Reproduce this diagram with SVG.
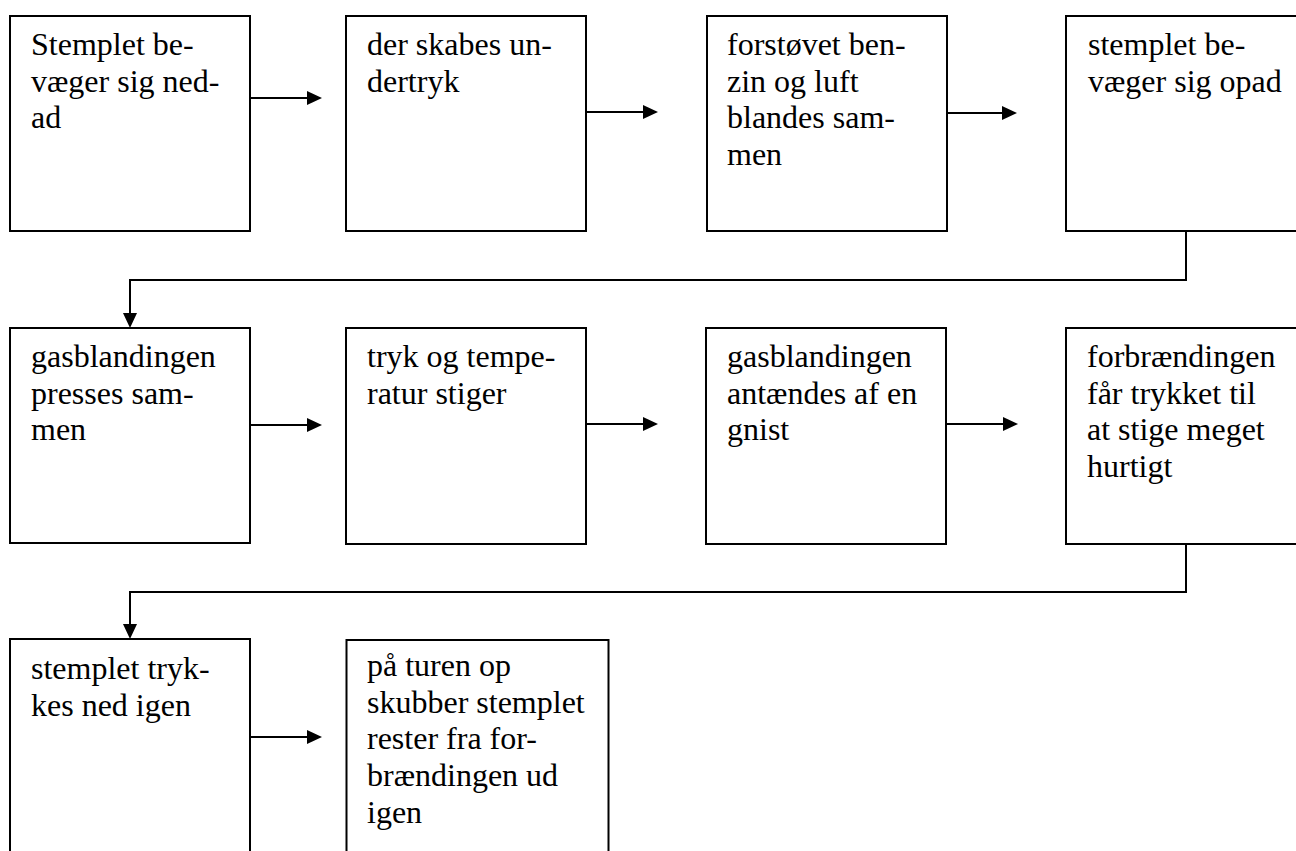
<svg xmlns="http://www.w3.org/2000/svg" width="1296" height="851" viewBox="0 0 1296 851">
<style>
.box{fill:#fff;stroke:#000;stroke-width:2}
.t{font-family:"Times New Roman","Liberation Serif","DejaVu Serif",serif;font-size:32px;fill:#000}
.c{fill:none;stroke:#000;stroke-width:2}
</style>
<defs>
<marker id="ah" markerUnits="userSpaceOnUse" markerWidth="16" markerHeight="16" refX="3" refY="7" orient="auto" viewBox="0 0 16 16">
<path d="M0,0 L15,7 L0,14 z" fill="#000"/>
</marker>
</defs>
<rect width="1296" height="851" fill="#fff"/>
<g id="connectors">
<path class="c" d="M250,98 H310" marker-end="url(#ah)"/>
<path class="c" d="M586,112 H646" marker-end="url(#ah)"/>
<path class="c" d="M947,113 H1005" marker-end="url(#ah)"/>
<path class="c" d="M1186,231 V280 H130 V316" marker-end="url(#ah)"/>
<path class="c" d="M250,425 H310" marker-end="url(#ah)"/>
<path class="c" d="M586,424 H646" marker-end="url(#ah)"/>
<path class="c" d="M946,424 H1006" marker-end="url(#ah)"/>
<path class="c" d="M1186,544 V592 H130 V627" marker-end="url(#ah)"/>
<path class="c" d="M250,737 H310" marker-end="url(#ah)"/>
</g>
<g id="n1"><rect class="box" x="10" y="16" width="240" height="215"/>
<text class="t" x="31" y="55">Stemplet be-</text><text class="t" x="31" y="91.7">væger sig ned-</text><text class="t" x="31" y="128.4">ad</text></g>
<g id="n2"><rect class="box" x="346" y="16" width="240" height="215"/>
<text class="t" x="367" y="55">der skabes un-</text><text class="t" x="367" y="91.7">dertryk</text></g>
<g id="n3"><rect class="box" x="707" y="16" width="240" height="215"/>
<text class="t" x="727" y="55">forstøvet ben-</text><text class="t" x="727" y="91.7">zin og luft</text><text class="t" x="727" y="128.4">blandes sam-</text><text class="t" x="727" y="165.1">men</text></g>
<g id="n4"><rect class="box" x="1066" y="16" width="245" height="215"/>
<text class="t" x="1088" y="55">stemplet be-</text><text class="t" x="1088" y="91.7">væger sig opad</text></g>
<g id="n5"><rect class="box" x="10" y="328" width="240" height="215"/>
<text class="t" x="31" y="367">gasblandingen</text><text class="t" x="31" y="403.7">presses sam-</text><text class="t" x="31" y="440.4">men</text></g>
<g id="n6"><rect class="box" x="346" y="328" width="240" height="216"/>
<text class="t" x="367" y="367">tryk og tempe-</text><text class="t" x="367" y="403.7">ratur stiger</text></g>
<g id="n7"><rect class="box" x="706" y="328" width="240" height="216"/>
<text class="t" x="727" y="367">gasblandingen</text><text class="t" x="727" y="403.7">antændes af en</text><text class="t" x="727" y="440.4">gnist</text></g>
<g id="n8"><rect class="box" x="1066" y="328" width="245" height="216"/>
<text class="t" x="1087" y="367">forbrændingen</text><text class="t" x="1087" y="403.7">får trykket til</text><text class="t" x="1087" y="440.4">at stige meget</text><text class="t" x="1087" y="477.1">hurtigt</text></g>
<g id="n9"><rect class="box" x="10" y="639" width="240" height="230"/>
<text class="t" x="31" y="679">stemplet tryk-</text><text class="t" x="31" y="715.7">kes ned igen</text></g>
<g id="n10"><rect class="box" x="346.5" y="640" width="262" height="230"/>
<text class="t" x="367" y="676">på turen op</text><text class="t" x="367" y="712.7">skubber stemplet</text><text class="t" x="367" y="749.4">rester fra for-</text><text class="t" x="367" y="786.1">brændingen ud</text><text class="t" x="367" y="822.8">igen</text></g>
</svg>
